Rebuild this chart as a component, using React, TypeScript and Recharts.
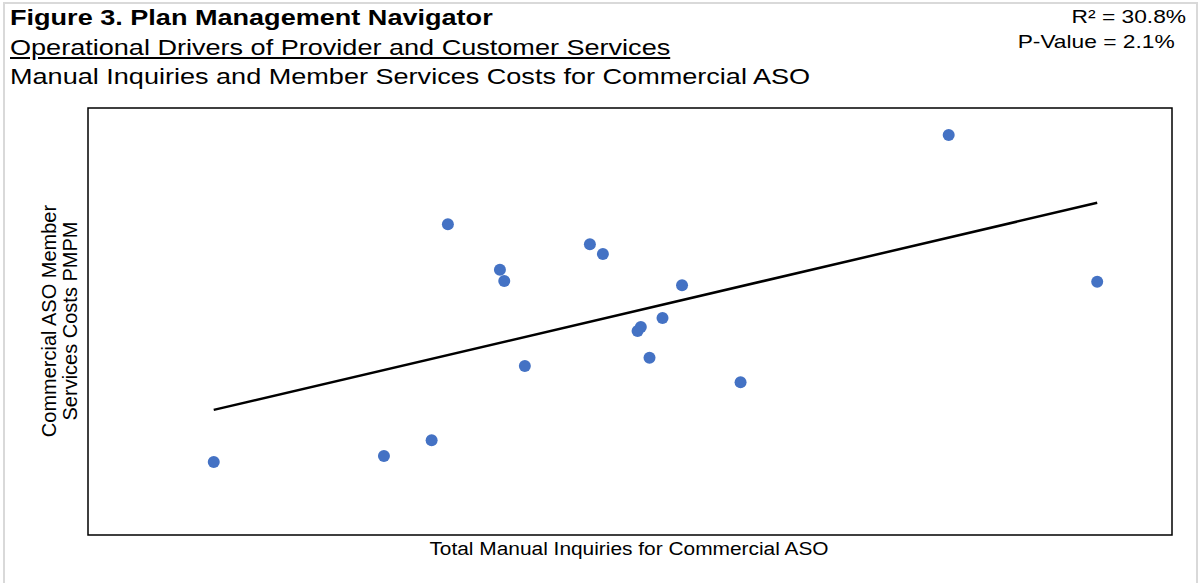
import { ScatterChart, Scatter, XAxis, YAxis, ReferenceArea } from "recharts";

// relative units (no ticks shown in the original)
const inquiries = [11.6, 27.3, 31.7, 33.2, 38.0, 38.4, 40.3, 46.3, 47.5, 50.7, 51.0, 51.8, 53.0, 54.8, 60.2, 79.4, 93.1];
const costs = [17.1, 18.5, 22.2, 72.8, 62.1, 59.5, 39.6, 68.1, 65.8, 47.8, 48.7, 41.5, 50.8, 58.5, 35.8, 93.7, 59.3];
const trendX = [11.6, 93.1];
const trendY = [29.3, 77.8];

const points = inquiries.map((x, i) => ({ x, y: costs[i] }));
const trend = trendX.map((x, i) => ({ x, y: trendY[i] }));

const font = "'Liberation Sans', Arial, sans-serif";

const Dot = (p: any) => <circle cx={p.cx} cy={p.cy} r={6} fill="#4472C4" />;

export default function App() {
  const head = { position:"absolute" as const,left:10,fontSize:22,lineHeight:"28px",transform:"scaleX(1.23)",transformOrigin:"left center",whiteSpace:"nowrap" as const };
  return (
    <div style={{ position:"fixed",left:0,top:0,width:1204,height:583,background:"#fff",fontFamily:font,color:"#000",overflow:"hidden" }}>
      <div style={{ position:"absolute",left:3,top:2,width:1191,height:600,border:"2px solid #d9d9d9" }} />
      <div style={{ ...head,top:4,fontWeight:700 }}>Figure 3. Plan Management Navigator</div>
      <div style={{ ...head,top:34,textDecoration:"underline" }}>Operational Drivers of Provider and Customer Services</div>
      <div style={{ ...head,top:63 }}>Manual Inquiries and Member Services Costs for Commercial ASO</div>
      <div style={{ position:"absolute",right:18,top:5,fontSize:18.5,lineHeight:"24px",transform:"scaleX(1.23)",transformOrigin:"right center",whiteSpace:"nowrap" }}>R² = 30.8%</div>
      <div style={{ position:"absolute",right:29,top:30,fontSize:18.5,lineHeight:"24px",transform:"scaleX(1.23)",transformOrigin:"right center",whiteSpace:"nowrap" }}>P-Value = 2.1%</div>
      <ScatterChart width={1204} height={583} margin={{ top:108,left:88,right:32,bottom:48 }} style={{ position:"absolute",left:0,top:0 }}>
        <XAxis type="number" dataKey="x" domain={[0,100]} hide />
        <YAxis type="number" dataKey="y" domain={[0,100]} hide />
        <ReferenceArea x1={0} x2={100} y1={0} y2={100} fill="none" stroke="#000" strokeWidth={1.5} />
        <Scatter data={trend} line={{ stroke:"#000",strokeWidth:2.5 }} shape={() => <g />} isAnimationActive={false} />
        <Scatter data={points} fill="#4472C4" shape={Dot} isAnimationActive={false} />
      </ScatterChart>
      <div style={{ position:"absolute",left:60,top:321,transform:"translate(-50%,-50%) rotate(-90deg)",fontSize:20,lineHeight:"21px",textAlign:"center",whiteSpace:"nowrap" }}>
        Commercial ASO Member<br />Services Costs PMPM
      </div>
      <div style={{ position:"absolute",left:629,top:549,transform:"translate(-50%,-50%) scaleX(1.16)",fontSize:18,lineHeight:"22px",whiteSpace:"nowrap" }}>Total Manual Inquiries for Commercial ASO</div>
    </div>
  );
}
